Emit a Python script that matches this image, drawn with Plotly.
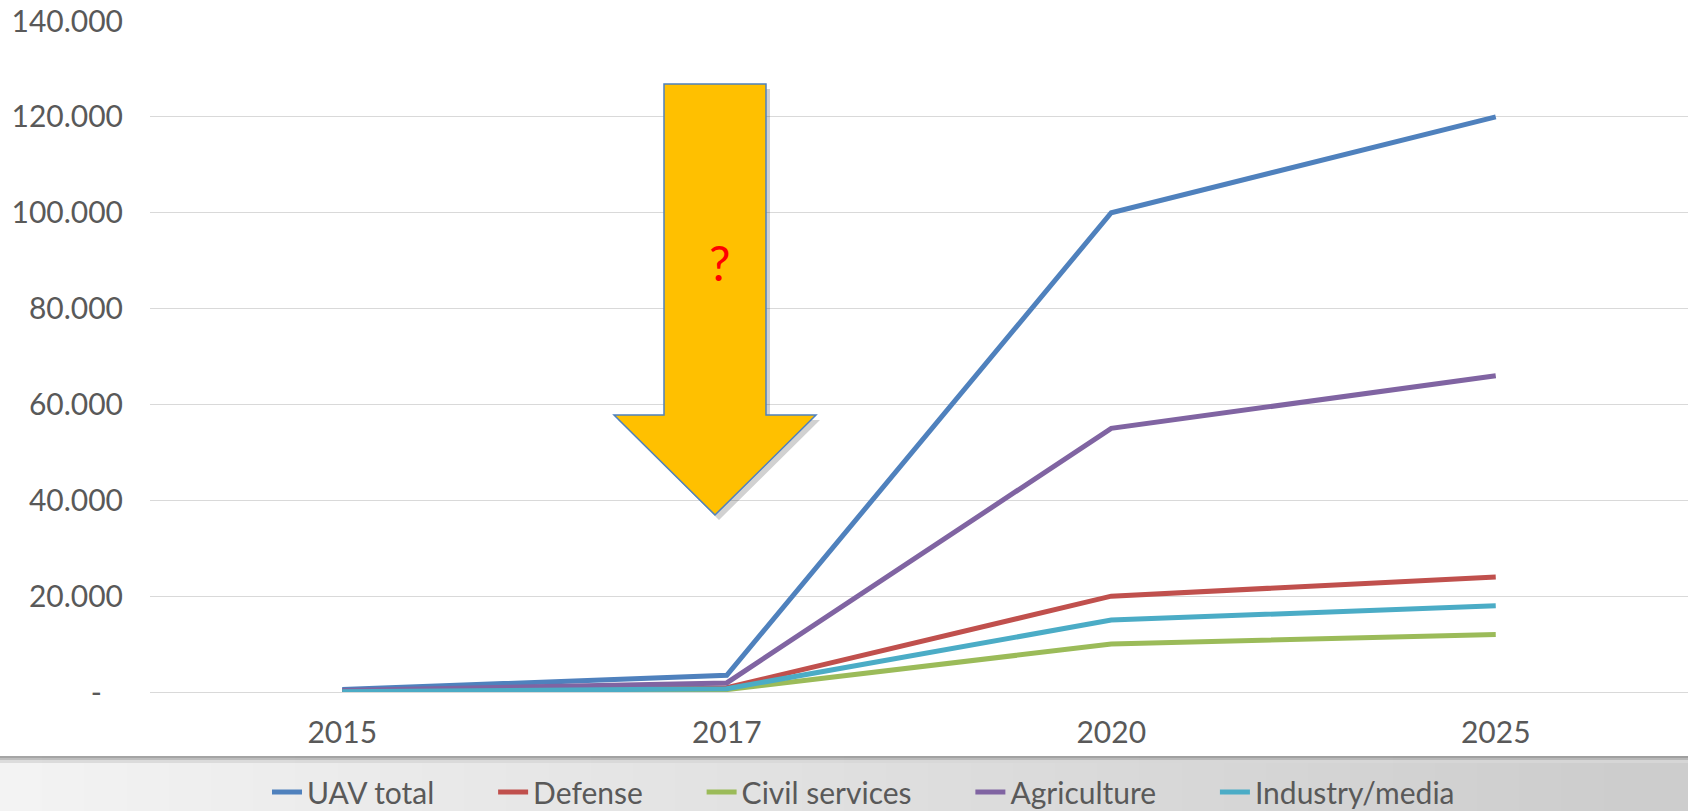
import plotly.graph_objects as go

# ---------------- data ----------------
years = ["2015", "2017", "2020", "2025"]
uav_total = [500, 3500, 100000, 120000]
defense = [100, 900, 20000, 24000]
civil_services = [50, 500, 10000, 12000]
agriculture = [300, 1900, 55000, 66000]
industry_media = [50, 700, 15000, 18000]

series_names = ["UAV total", "Defense", "Civil services", "Agriculture", "Industry/media"]
series_values = [uav_total, defense, civil_services, agriculture, industry_media]
series_colors = ["#4F81BD", "#C0504D", "#9BBB59", "#8064A2", "#4BACC6"]

y_tick_values = [0, 20000, 40000, 60000, 80000, 100000, 120000, 140000]
y_tick_labels = ["-\u2007\u2009", "20.000", "40.000", "60.000", "80.000",
                 "100.000", "120.000", "140.000"]
arrow_label = "?"

# ---------------- layout constants ----------------
W, H = 1688, 811
ML, MR, MT, MB = 150, 0, 21, 119
PW, PH = W - ML - MR, H - MT - MB
FONT = "Lato"
FS = 30
TXT = "#595959"


def px(xp):
    return (xp - ML) / PW


def py(yp):
    return (H - MB - yp) / PH


fig = go.Figure()
x_idx = list(range(len(years)))
pad = "\u00a0" * 7
for i, (name, vals, col) in enumerate(zip(series_names, series_values, series_colors)):
    label = name + (pad if i < len(series_names) - 1 else "")
    fig.add_trace(go.Scatter(
        x=x_idx, y=vals, name=label, mode="lines",
        line=dict(color=col, width=5),
        hoverinfo="skip",
    ))

shapes = []

# bottom grey photo strip (gradient approximated with slices)
n = 40
strip_top = 756
for k in range(n):
    x0 = k * W / n
    x1 = (k + 1) * W / n + 1
    t = k / (n - 1)
    c = int(243 - 38 * t)
    shapes.append(dict(type="rect", xref="paper", yref="paper",
                       x0=px(x0), x1=px(x1), y0=py(H), y1=py(strip_top),
                       fillcolor=f"rgb({c},{c},{c})", line=dict(width=0),
                       layer="below"))
# top shadow of strip
for (a, b, c) in [(756, 758, 150), (758, 760, 180), (760, 763, 215)]:
    shapes.append(dict(type="rect", xref="paper", yref="paper",
                       x0=px(0), x1=px(W), y0=py(b), y1=py(a),
                       fillcolor=f"rgba({c},{c},{c},0.85)", line=dict(width=0),
                       layer="below"))

# arrow (decoration) in pixel positions converted to paper coords
arrow_pts = [(664, 84), (766, 84), (766, 415), (816, 415), (715, 515),
             (614, 415), (664, 415)]


def path_from(pts, dx=0, dy=0):
    s = ""
    for j, (a, b) in enumerate(pts):
        s += ("M" if j == 0 else "L") + f"{px(a + dx):.5f},{py(b + dy):.5f} "
    return s + "Z"


shapes.append(dict(type="path", xref="paper", yref="paper",
                   path=path_from(arrow_pts, 4, 5),
                   fillcolor="rgba(0,0,0,0.18)", line=dict(width=0)))
shapes.append(dict(type="path", xref="paper", yref="paper",
                   path=path_from(arrow_pts),
                   fillcolor="#FFC000", line=dict(color="#4F81BD", width=1.5)))

fig.update_layout(
    width=W, height=H, autosize=False,
    margin=dict(l=ML, r=MR, t=MT, b=MB, pad=0),
    paper_bgcolor="white", plot_bgcolor="white",
    font=dict(family=FONT, size=FS, color=TXT),
    shapes=shapes,
    showlegend=True,
    legend=dict(orientation="h", xref="container", yref="container",
                x=267 / W, xanchor="left", y=(H - 792) / H, yanchor="middle",
                bgcolor="rgba(0,0,0,0)", font=dict(family=FONT, size=FS, color=TXT),
                traceorder="normal"),
    annotations=[dict(xref="paper", yref="paper", x=px(719), y=py(262),
                      text=arrow_label, showarrow=False,
                      font=dict(family=FONT, size=48, color="#FF0000"),
                      xanchor="center", yanchor="middle")],
    xaxis=dict(range=[-0.5, 3.5], tickvals=x_idx, ticktext=years,
               showgrid=False, zeroline=False, showline=False, ticks="",
               ticklabelstandoff=20, tickfont=dict(family=FONT, size=FS, color=TXT),
               fixedrange=True),
    yaxis=dict(range=[0, 140000], tickvals=y_tick_values, ticktext=y_tick_labels,
               showgrid=True, gridcolor="#D9D9D9", gridwidth=1.3,
               zeroline=True, zerolinecolor="#D9D9D9", zerolinewidth=1.3,
               showline=False, ticks="", ticklabelstandoff=26,
               tickfont=dict(family=FONT, size=FS, color=TXT), fixedrange=True),
)

fig.write_html("out.html", config={"displayModeBar": False},
               post_script="document.body.style.margin='0px';document.body.style.overflow='hidden';")
